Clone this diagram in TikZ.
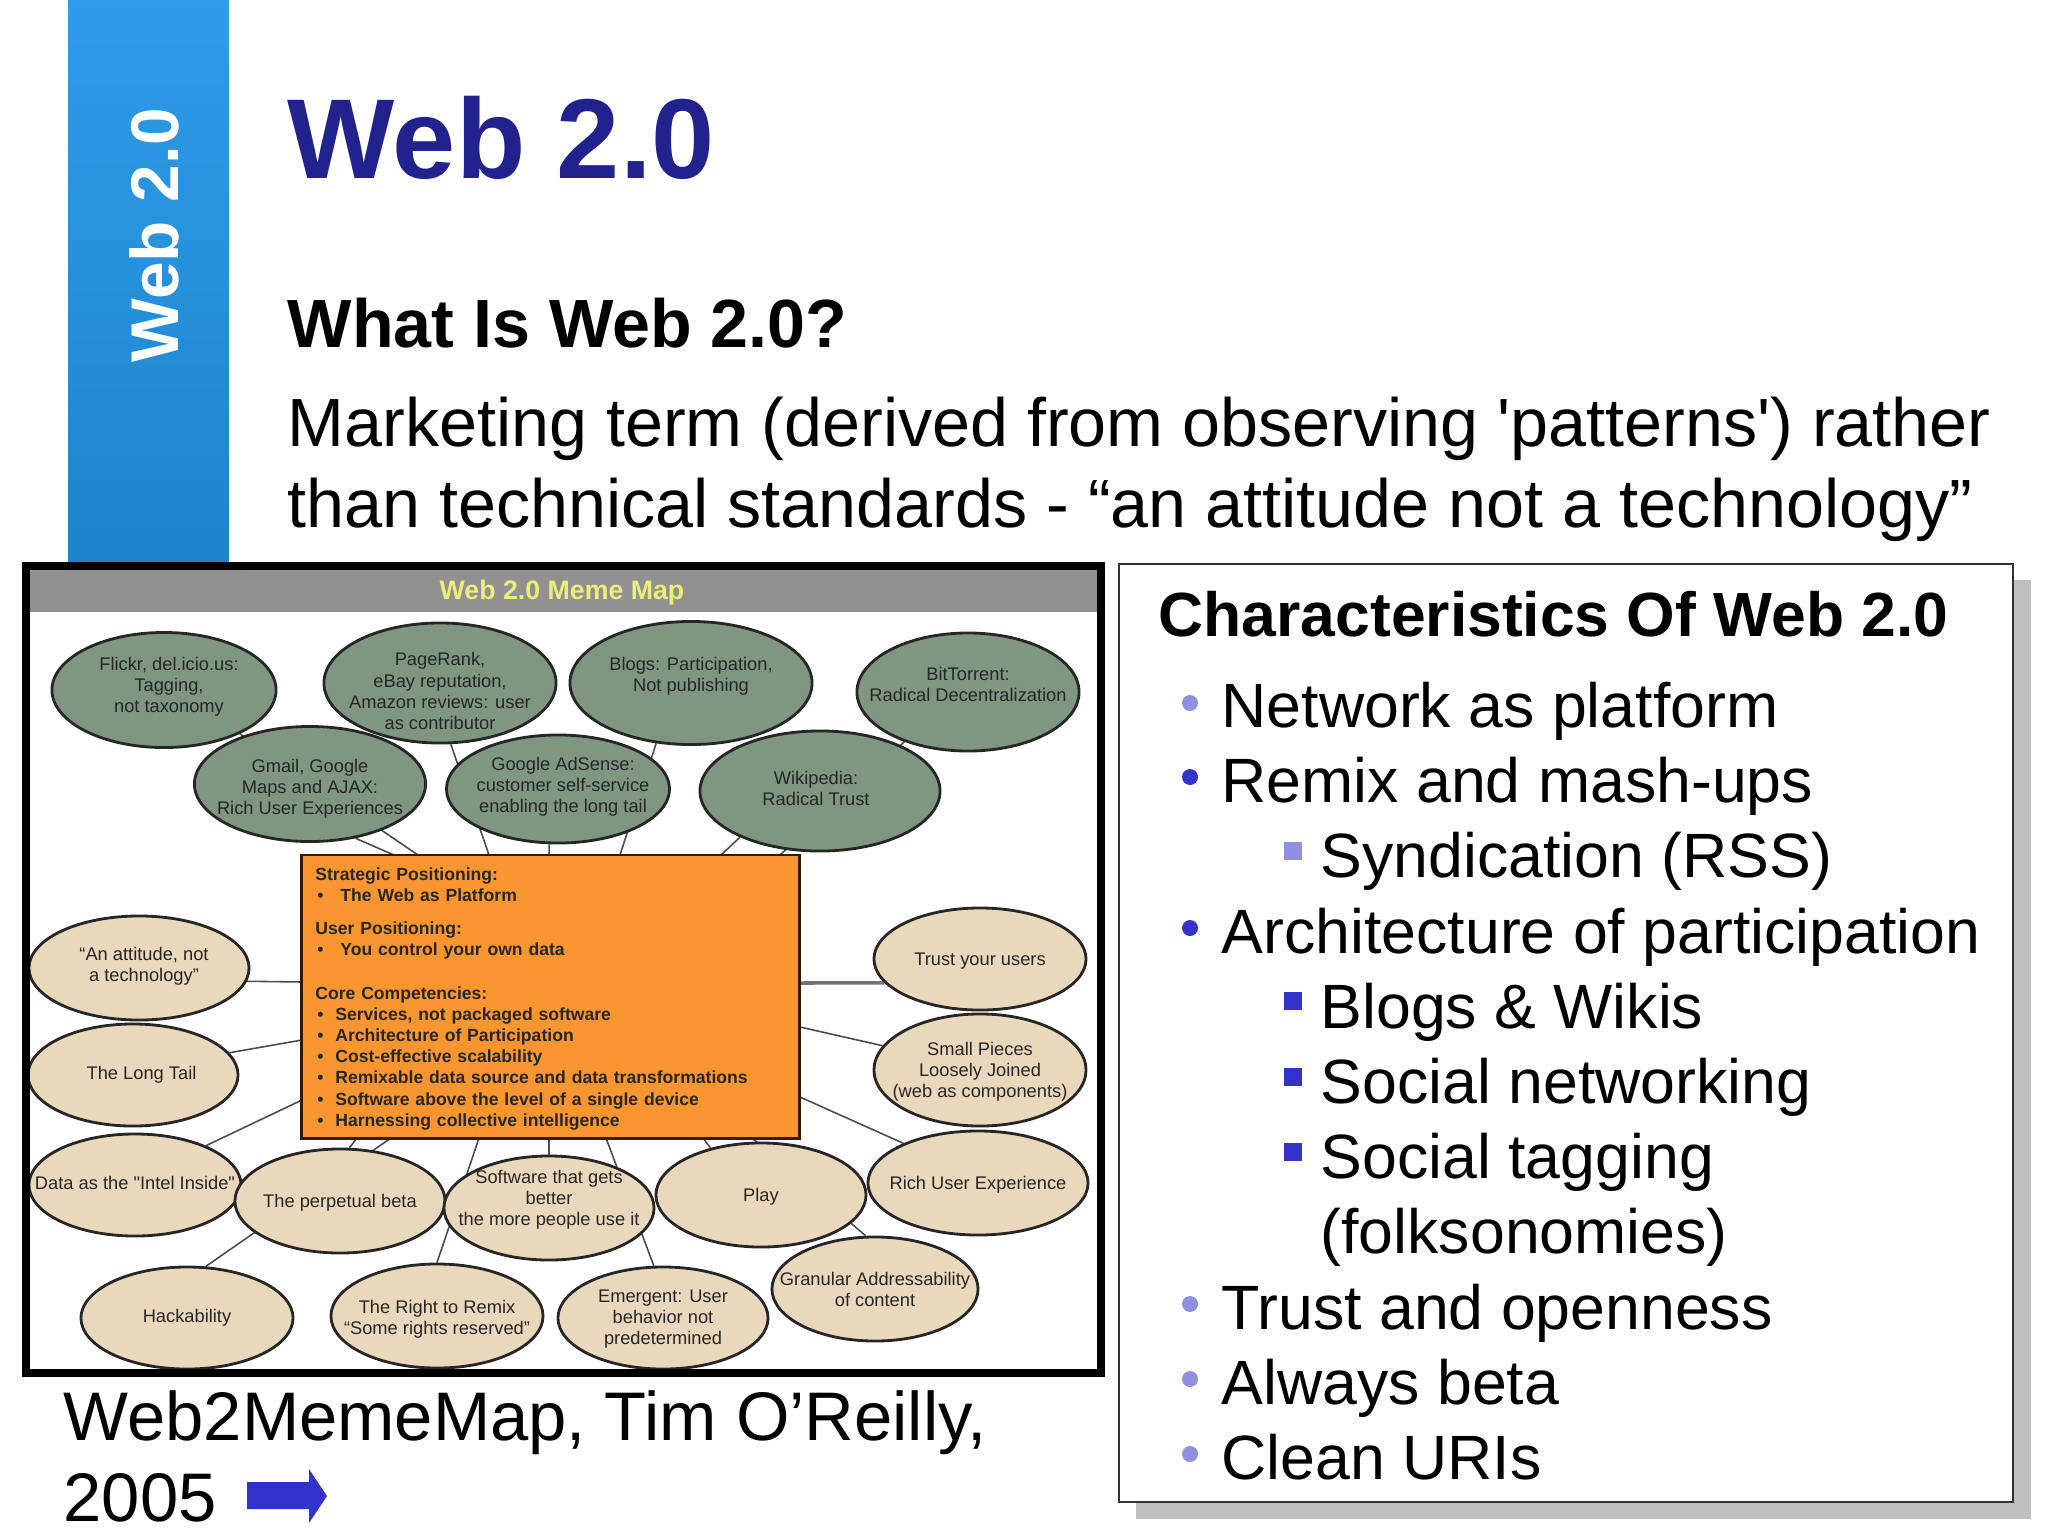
\documentclass[tikz,border=0pt]{standalone}
\usepackage{fontspec}
\setmainfont{Liberation Sans}
\usetikzlibrary{shapes.geometric,backgrounds}

\definecolor{barlight}{HTML}{2F9CEA}
\definecolor{bardark}{HTML}{1C84CC}
\definecolor{titleblue}{HTML}{22228F}
\definecolor{bulletdark}{HTML}{3333CC}
\definecolor{bulletlight}{HTML}{9090E0}
\definecolor{cloudgreen}{HTML}{7F9680}
\definecolor{cloudtan}{HTML}{EAD8BC}
\definecolor{boxorange}{HTML}{F9962F}
\definecolor{mapyellow}{HTML}{EDEE7A}

\newcommand{\ovaltext}[2][0]{\makebox[0pt]{\raisebox{\dimexpr #1cm-0.044cm}[0pt][0pt]{\begin{tabular}{@{}c@{}}#2\end{tabular}}}}
\newcommand{\boxitem}[2][0.25]{\makebox[#1 cm][l]{\hspace{0.02cm}•}#2}

\tikzset{
    slidetext/.style={anchor=base west, inner sep=0pt, font=\fontsize{17.8}{20}\selectfont},
    greenoval/.style={ellipse, draw=black!85, line width=0.8pt, fill=cloudgreen, inner sep=0pt,
        font=\fontsize{5.2}{6}\selectfont, text=black!85},
    tanoval/.style={greenoval, fill=cloudtan},
    memelink/.style={draw=black!70, line width=0.45pt},
    roundbullet/.style={circle, fill=#1, inner sep=0pt, minimum size=0.16cm},
    squarebullet/.style={rectangle, fill=#1, inner sep=0pt, minimum size=0.18cm},
}

\begin{document}
\begin{tikzpicture}[x=0.01cm, y=-0.01cm]
    \useasboundingbox (0,0) rectangle (2048,1536);

    \shade[top color=barlight, bottom color=bardark] (68,0) rectangle (229,562);
    \node[anchor=base west, inner sep=0pt, rotate=90, text=white, font=\fontsize{19.2}{20}\selectfont\bfseries] (sidetitle) at (178,363) {Web 2.0};

    \node[slidetext, text=titleblue, font=\fontsize{32.3}{36}\selectfont\bfseries] (title) at (287,178) {Web 2.0};
    \node[slidetext, font=\fontsize{19.4}{22}\selectfont\bfseries] (question) at (287,347) {What Is Web 2.0?};
    \node[slidetext, font=\fontsize{19.41}{22}\selectfont] (termone) at (287,446) {Marketing term (derived from observing \textquotesingle patterns\textquotesingle) rather};
    \node[slidetext, font=\fontsize{19.41}{22}\selectfont] (termtwo) at (287,527) {than technical standards - “an attitude not a technology”};

    \fill[black!43] (30,569) rectangle (1097,612);
    \node[text=mapyellow, font=\fontsize{7.6}{9}\selectfont\bfseries] (maptitle) at (562,593) {Web 2.0 Meme Map};

    \node[greenoval, minimum width=2.24cm, minimum height=1.15cm] (flickr) at (164,690) {\hspace{0.1cm}\ovaltext[0.025]{Flickr, del.icio.us:\\Tagging,\\not taxonomy}};
    \node[greenoval, minimum width=2.32cm, minimum height=1.2cm] (pagerank) at (440,683) {\ovaltext[-0.104]{PageRank,\\eBay reputation,\\Amazon reviews:  user\\as contributor}};
    \node[greenoval, minimum width=2.42cm, minimum height=1.23cm] (blogs) at (691,683) {\ovaltext[0.065]{Blogs:  Participation,\\Not publishing}};
    \node[greenoval, minimum width=2.22cm, minimum height=1.18cm] (bittorrent) at (968,692) {\ovaltext[0.05]{BitTorrent:\\Radical Decentralization}};
    \node[greenoval, minimum width=2.31cm, minimum height=1.15cm] (gmail) at (310,784) {\ovaltext[-0.05]{Gmail, Google\\Maps and AJAX:\\Rich User Experiences}};
    \node[greenoval, minimum width=2.23cm, minimum height=1.08cm] (adsense) at (558,789) {\hspace{0.1cm}\ovaltext[0.015]{Google AdSense:\\customer self-service\\enabling the long tail}};
    \node[greenoval, minimum width=2.4cm, minimum height=1.2cm] (wikipedia) at (820,791) {\ovaltext{Wikipedia:\\Radical Trust}\kern0.08cm};

    \node[tanoval, minimum width=2.2cm, minimum height=1.04cm] (attitude) at (139,968) {\hspace{0.1cm}\ovaltext[0.015]{“An attitude, not\\a technology”}};
    \node[tanoval, minimum width=2.1cm, minimum height=1.02cm] (longtail) at (133,1075) {\hspace{0.17cm}\ovaltext{The Long Tail}};
    \node[tanoval, minimum width=2.12cm, minimum height=1.02cm] (intel) at (135,1185) {\ovaltext{Data as the \textquotedbl Intel Inside\textquotedbl}};
    \node[tanoval, minimum width=2.1cm, minimum height=1.04cm] (beta) at (340,1201) {\ovaltext[-0.025]{The perpetual beta}};
    \node[tanoval, minimum width=2.1cm, minimum height=1.04cm] (better) at (549,1208) {\ovaltext[0.08]{Software that gets\\better\\the more people use it}};
    \node[tanoval, minimum width=2.1cm, minimum height=1.04cm] (play) at (761,1195) {\ovaltext[-0.025]{Play}};
    \node[tanoval, minimum width=2.2cm, minimum height=1.04cm] (rich) at (978,1183) {\ovaltext[-0.025]{Rich User Experience}};
    \node[tanoval, minimum width=2.12cm, minimum height=1.02cm] (trust) at (980,959) {\ovaltext[-0.025]{Trust your users}};
    \node[tanoval, minimum width=2.12cm, minimum height=1.12cm] (pieces) at (980,1070) {\ovaltext[-0.025]{Small Pieces\\Loosely Joined\\(web as components)}};
    \node[tanoval, minimum width=2.12cm, minimum height=1.02cm] (hack) at (187,1318) {\ovaltext{Hackability}};
    \node[tanoval, minimum width=2.12cm, minimum height=1.04cm] (remix) at (437,1316) {\ovaltext[-0.04]{The Right to Remix\\“Some rights reserved”}};
    \node[tanoval, minimum width=2.1cm, minimum height=1.02cm] (emergent) at (663,1318) {\ovaltext[-0.015]{Emergent:  User\\behavior not\\predetermined}};
    \node[tanoval, minimum width=2.06cm, minimum height=1.04cm] (granular) at (875,1289) {\ovaltext[-0.025]{Granular Addressability\\of content}};

    \node[draw=black!80!orange, line width=0.8pt, fill=boxorange, inner sep=0pt, minimum width=4.97cm, minimum height=2.83cm, text width=4.7cm, align=left, font=\fontsize{5}{6}\selectfont\bfseries, text=black!85] (core) at (550.5,996.5) {%
        \rule{0pt}{4.8pt}Strategic Positioning:\\[0.1pt]
        \boxitem{The Web as Platform}\\[3.3pt]
        User Positioning:\\[0.1pt]
        \boxitem{You control your own data}\\[6.5pt]
        Core Competencies:\\
        \boxitem[0.2]{Services, not packaged software}\\
        \boxitem[0.2]{Architecture of Participation}\\
        \boxitem[0.2]{Cost-effective scalability}\\
        \boxitem[0.2]{Remixable data source and data transformations}\\
        \boxitem[0.2]{Software above the level of a single device}\\
        \boxitem[0.2]{Harnessing collective intelligence}};

    \coordinate (flickrE) at (418,855);
    \coordinate (gmailE) at (394,855);
    \coordinate (pagerankE) at (489,855);
    \coordinate (adsenseE) at (549,855);
    \coordinate (blogsE) at (620,855);
    \coordinate (wikipediaE) at (721,855);
    \coordinate (bittorrentE) at (780,855);
    \coordinate (attitudeE) at (302,982);
    \coordinate (longtailE) at (302,1040);
    \coordinate (intelE) at (302,1100);
    \coordinate (trustE) at (800,983);
    \coordinate (piecesE) at (800,1027);
    \coordinate (richE) at (800,1097);
    \coordinate (betaE) at (357,1138);
    \coordinate (hackE) at (391,1138);
    \coordinate (betterE) at (549,1138);
    \coordinate (remixE) at (479,1138);
    \coordinate (emergentE) at (606,1138);
    \coordinate (playE) at (703,1138);
    \coordinate (granularE) at (752,1138);

    \begin{scope}[on background layer]
        \draw[memelink] (flickr.-30) -- (flickrE);
        \draw[memelink] (gmail.-50) -- (gmailE);
        \draw[memelink] (pagerank.-80) -- (pagerankE);
        \draw[memelink] (adsense.-99) -- (adsenseE);
        \draw[memelink] (blogs.-120) -- (blogsE);
        \draw[memelink] (wikipedia.-150) -- (wikipediaE);
        \draw[memelink] (bittorrent.-142) -- (bittorrentE);
        \draw[memelink] (attitude.-7) -- (attitudeE);
        \draw[memelink] (longtail.13) -- (longtailE);
        \draw[memelink] (intel.29) -- (intelE);
        \draw[memelink, draw=black!55, line width=1pt] (trust.194) -- (trustE);
        \draw[memelink] (pieces.166) -- (piecesE);
        \draw[memelink] (rich.152) -- (richE);
        \draw[memelink] (beta.80) -- (betaE);
        \draw[memelink] (hack.70) -- (hackE);
        \draw[memelink] (better.90) -- (betterE);
        \draw[memelink] (remix.90) -- (remixE);
        \draw[memelink] (emergent.100) -- (emergentE);
        \draw[memelink] (play.137) -- (playE);
        \draw[memelink] (granular.100) -- (granularE);
    \end{scope}

    \draw[line width=2.3pt] (26,566) rectangle (1101,1373);

    \node[slidetext, font=\fontsize{19.55}{22}\selectfont] (caption) at (63,1440) {Web2MemeMap, Tim O’Reilly,};
    \node[slidetext, font=\fontsize{19.55}{22}\selectfont] (year) at (63,1521) {2005};
    \fill[bulletdark] (247,1482) -- (309,1482) -- (309,1469) -- (327,1496) -- (309,1523) -- (309,1509) -- (247,1509) -- cycle;

    \fill[black!25] (1136,580) rectangle (2031,1519);
    \draw[line width=0.6pt, draw=black!80, fill=white] (1119,564) rectangle (2013,1502);

    \node[slidetext, font=\fontsize{17.75}{20}\selectfont\bfseries] (charhead) at (1158,636) {Characteristics Of Web 2.0};

    \node[roundbullet=bulletlight] (bulletA) at (1190,703) {};
    \node[slidetext] (network) at (1221,727) {Network as platform};
    \node[roundbullet=bulletdark] (bulletB) at (1190,777) {};
    \node[slidetext] (mashups) at (1221,802) {Remix and mash-ups};
    \node[squarebullet=bulletlight] (bulletC) at (1293,851) {};
    \node[slidetext] (syndication) at (1320,877) {Syndication (RSS)};
    \node[roundbullet=bulletdark] (bulletD) at (1190,928) {};
    \node[slidetext] (architecture) at (1221,953) {Architecture of participation};
    \node[squarebullet=bulletdark] (bulletE) at (1293,1001) {};
    \node[slidetext] (wikis) at (1320,1028) {Blogs \& Wikis};
    \node[squarebullet=bulletdark] (bulletF) at (1293,1077) {};
    \node[slidetext] (networking) at (1320,1103) {Social networking};
    \node[squarebullet=bulletdark] (bulletG) at (1293,1152) {};
    \node[slidetext] (tagging) at (1320,1178) {Social tagging};
    \node[slidetext] (folksonomies) at (1320,1253) {(folksonomies)};
    \node[roundbullet=bulletlight] (bulletH) at (1190,1304) {};
    \node[slidetext] (openness) at (1221,1329) {Trust and openness};
    \node[roundbullet=bulletlight] (bulletI) at (1190,1379) {};
    \node[slidetext] (always) at (1221,1404) {Always beta};
    \node[roundbullet=bulletlight] (bulletJ) at (1190,1454) {};
    \node[slidetext] (uris) at (1221,1479) {Clean URIs};
\end{tikzpicture}
\end{document}
